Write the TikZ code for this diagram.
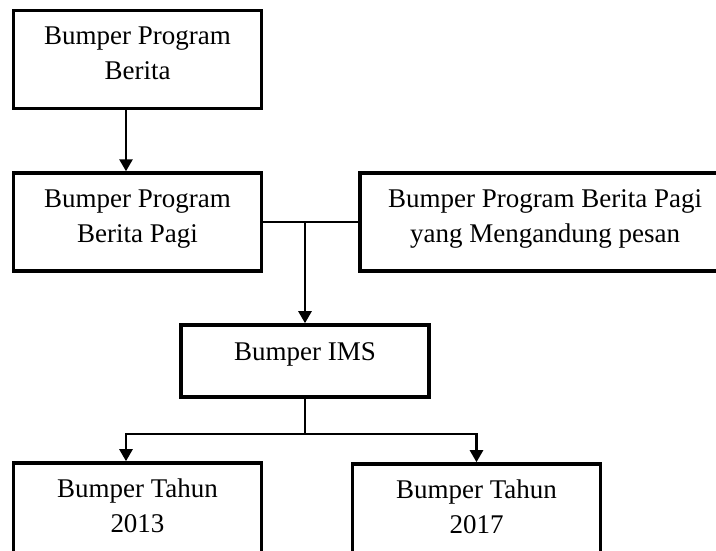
\documentclass[tikz,border=0pt]{standalone}
\usepackage{fontspec}
\setmainfont{Liberation Serif}
\usetikzlibrary{arrows.meta, positioning}

\begin{document}
\begin{tikzpicture}[
            x=1pt, y=-1pt,
            box/.style={rectangle, draw, line width=3.6pt, minimum width=248pt, minimum height=98pt, text depth=12pt, align=center, font=\fontsize{27}{35}\selectfont},
            link/.style={line width=2.6pt},
            arrow/.style={link, -{Triangle[length=12pt, width=13pt]}}
        ]
        \useasboundingbox (0,0) rectangle (716,550);
        \clip (0,0) rectangle (716,550);

        % Berita
        \node[box] (berita) at (137.5,59.5) {Bumper Program\\Berita};
        \node[box, below=61pt of berita] (berita_pagi) {Bumper Program\\Berita Pagi};
        \node[box, minimum width=370pt, right=95pt of berita_pagi] (berita_pesan) {Bumper Program Berita Pagi\\yang Mengandung pesan};

        % IMS
        \node[box, minimum height=72pt, text depth=18pt] (ims) at (305,361) {Bumper IMS};
        \node[box] (tahun_2013) at (137.5,512) {Bumper Tahun\\2013};
        \node[box] (tahun_2017) at (476.5,513) {Bumper Tahun\\2017};

        \coordinate (drop) at (126,0);

        \draw[arrow] (berita.south -| drop) -- (berita_pagi.north -| drop);
        \draw[link] (berita_pagi.east) -- (berita_pesan.west);
        \draw[arrow] (berita_pagi.east -| ims.north) -- (ims.north);

        \draw[link] (ims.south) -- ++(0,35) coordinate (split);
        \draw[arrow] (split) -| (tahun_2013.north -| drop);
        \draw[arrow] (split) -| (tahun_2017.north);
    \end{tikzpicture}
\end{document}
